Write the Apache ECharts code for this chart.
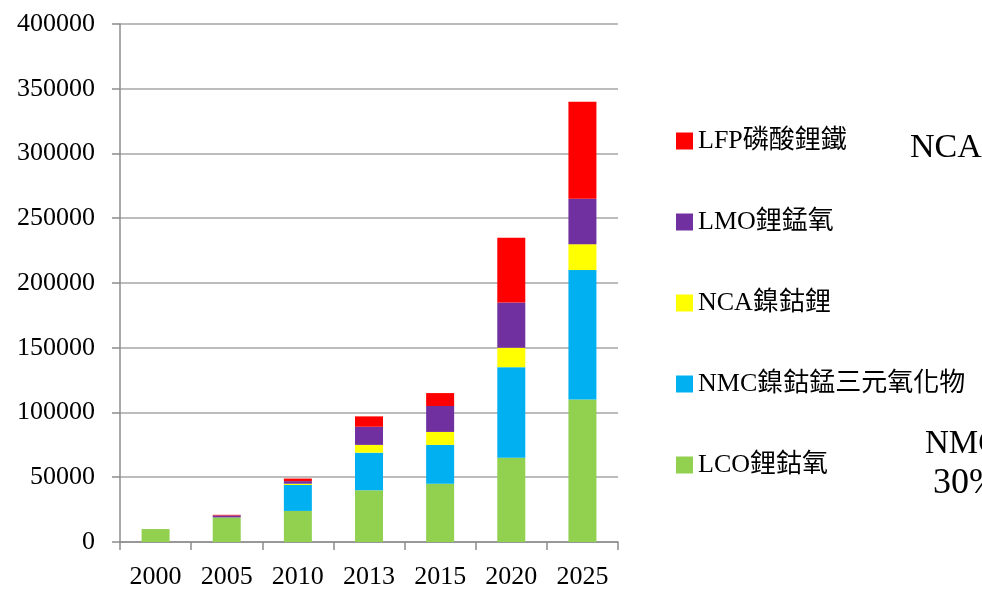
<!DOCTYPE html>
<html>
<head>
<meta charset="utf-8">
<script src="https://cdn.jsdelivr.net/npm/echarts@6/dist/echarts.min.js"></script>
<style>
  html, body { margin: 0; padding: 0; background: #fff; }
  #chart { width: 982px; height: 590px; }
</style>
</head>
<body>
<div id="chart"></div>
<script>
// Categories (years) and stacked battery-chemistry volumes
const years = ['2000', '2005', '2010', '2013', '2015', '2020', '2025'];
const lco = [10000, 19000, 24000, 40000, 45000, 65000, 110000];
const nmc = [0, 0, 20000, 29000, 30000, 70000, 100000];
const nca = [0, 0, 1000, 6000, 10000, 15000, 20000];
const lmo = [0, 1500, 2000, 14000, 20000, 35000, 35000];
const lfp = [0, 500, 2000, 8000, 10000, 50000, 75000];

const seriesNames = ['LCO鋰鈷氧', 'NMC鎳鈷錳三元氧化物', 'NCA鎳鈷鋰', 'LMO鋰錳氧', 'LFP磷酸鋰鐵'];
const seriesData = [lco, nmc, nca, lmo, lfp];
const seriesColors = ['#92D050', '#00B0F0', '#FFFF00', '#7030A0', '#FF0000'];

const serif = '"Liberation Serif", "Times New Roman", "Noto Sans CJK TC", serif';

const chart = echarts.init(document.getElementById('chart'), null, { renderer: 'canvas' });

chart.setOption({
  backgroundColor: '#ffffff',
  animation: false,
  grid: { left: 120, right: 364, top: 24, bottom: 47 },
  legend: {
    orient: 'vertical',
    left: 671,
    top: 123,
    itemWidth: 17,
    itemHeight: 17,
    itemGap: 55,
    icon: 'rect',
    data: seriesNames.slice().reverse(),
    textStyle: {
      fontFamily: serif,
      fontSize: 26,
      lineHeight: 26,
      color: '#000'
    }
  },
  xAxis: {
    type: 'category',
    data: years,
    axisLine: { lineStyle: { color: '#8c8c8c', width: 1.5 } },
    axisTick: { show: true, length: 8, alignWithLabel: false, lineStyle: { color: '#8c8c8c', width: 1.5 } },
    axisLabel: { fontFamily: serif, fontSize: 26, color: '#000', margin: 22 }
  },
  yAxis: {
    type: 'value',
    min: 0,
    max: 400000,
    interval: 50000,
    axisLine: { show: true, lineStyle: { color: '#8c8c8c', width: 1.5 } },
    axisTick: { show: true, length: 8, lineStyle: { color: '#8c8c8c', width: 1.5 } },
    axisLabel: {
      fontFamily: serif,
      fontSize: 26,
      color: '#000',
      margin: 25,
      formatter: (v) => String(v)
    },
    splitLine: { show: true, lineStyle: { color: '#a6a6a6', width: 1.5 } }
  },
  series: seriesNames.map((name, i) => ({
    name: name,
    type: 'bar',
    stack: 'total',
    barWidth: 28,
    data: seriesData[i],
    itemStyle: { color: seriesColors[i] }
  })),
  graphic: [
    { type: 'text', left: 910, top: 131, style: { text: 'NCA', font: '34px ' + serif, fill: '#000' } },
    { type: 'text', left: 925, top: 428, style: { text: 'NMC', font: '33px ' + serif, fill: '#000' } },
    { type: 'text', left: 933, top: 466, style: { text: '30%', font: '36px ' + serif, fill: '#000' } }
  ]
});
</script>
</body>
</html>
